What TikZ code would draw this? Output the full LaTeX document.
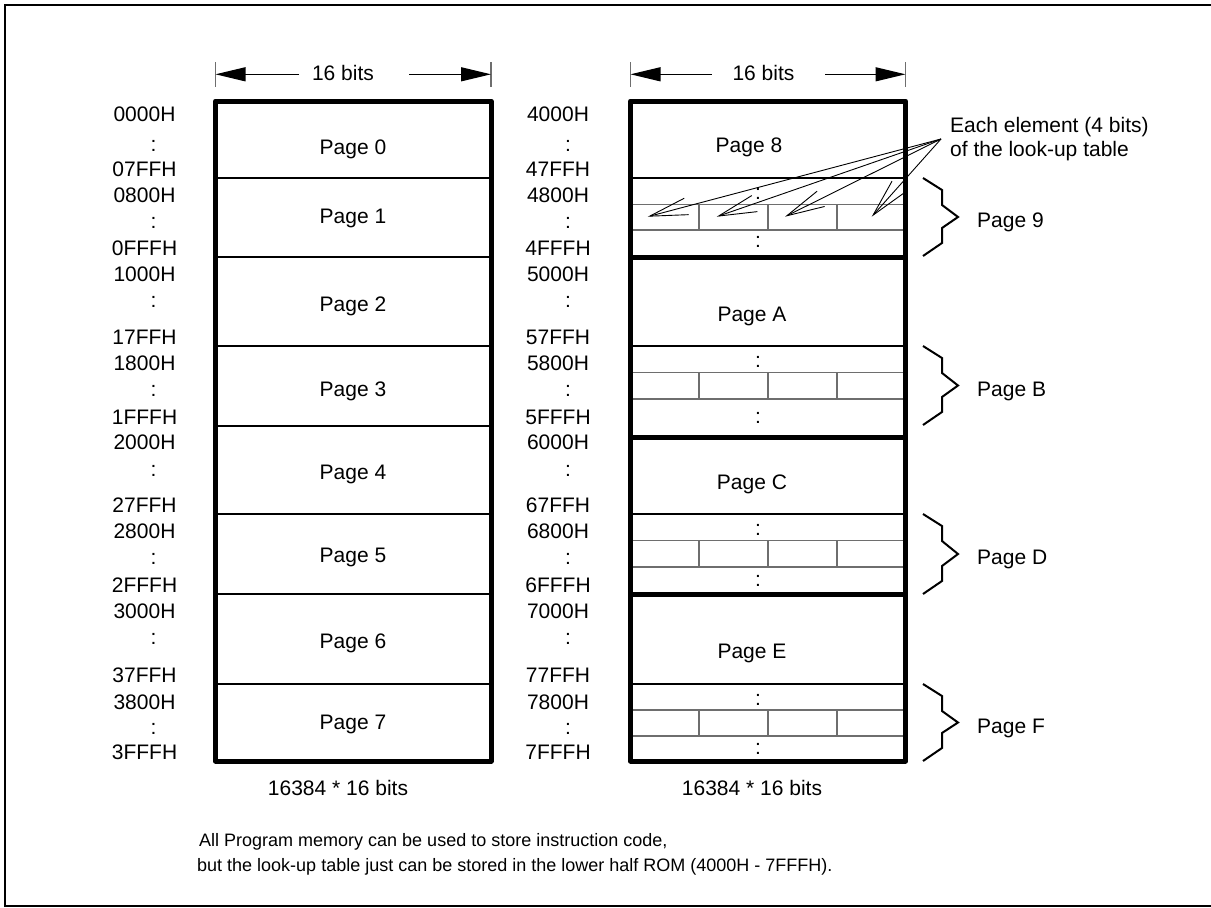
\documentclass[tikz,border=0pt]{standalone}
\usepackage{fontspec}
\setmainfont{Liberation Sans}
\usetikzlibrary{arrows.meta}
\definecolor{gridgray}{RGB}{110,110,110}
\tikzset{
  lbl/.style={font=\fontsize{21}{24}\selectfont, inner sep=0pt},
  note/.style={font=\fontsize{18}{21}\selectfont, inner sep=0pt},
  boxline/.style={line width=5pt, line join=round},
  divthin/.style={line width=2.5pt},
  cellline/.style={line width=1.3pt, draw=gridgray},
  tickline/.style={line width=1.3pt, draw=gridgray},
  dimarrow/.style={line width=1.2pt, -{Triangle[length=30pt,width=14pt]}},
  leader/.style={line width=0.9pt, -{Straight Barb[length=38pt,width=17pt,line width=0.9pt]}},
  bracepath/.style={line width=2pt, line join=miter},
}
\begin{document}
\begin{tikzpicture}[x=1pt,y=-1pt]
\useasboundingbox (0,0) rectangle (1211,908);
% outer frame (right side cut off)
\draw[line width=2pt] (1220,5) -- (5,5) -- (5,906) -- (1220,906);

% ---------- left memory block ----------
\foreach \y in {178,257,346,426,514,594,684}{
  \draw[divthin] (215.5,\y) -- (491,\y);
}
\draw[boxline] (215.5,101) rectangle (491,761);

% ---------- right memory block: look-up table rows ----------
\foreach \t/\ga/\gb/\ca/\cb in {178/204.3/230/194/242,
                                 346/372.7/399/362/418,
                                 514/540.7/567/530/581,
                                 684/710/736/700/749}{
  \draw[cellline] (630.5,\ga) -- (905.5,\ga);
  \draw[cellline] (630.5,\gb) -- (905.5,\gb);
  \foreach \x in {699,768,837}{
    \draw[cellline] (\x,\ga) -- (\x,\gb);
  }
  \node[lbl] (dc\t a) at (758,\ca) {:};
  \node[lbl] (dc\t b) at (758,\cb) {:};
}
\foreach \y in {178,346,514,684}{
  \draw[divthin] (630.5,\y) -- (905.5,\y);
}
\foreach \y in {257,437,594}{
  \draw[boxline] (630.5,\y) -- (905.5,\y);
}
\draw[boxline] (630.5,101) rectangle (905.5,761);

% ---------- page labels ----------
\node[lbl, anchor=base] (p0) at (353,154.5) {Page 0};
\node[lbl, anchor=base] (p1) at (353,223.5) {Page 1};
\node[lbl, anchor=base] (p2) at (353,311.5) {Page 2};
\node[lbl, anchor=base] (p3) at (353,396.5) {Page 3};
\node[lbl, anchor=base] (p4) at (353,479.5) {Page 4};
\node[lbl, anchor=base] (p5) at (353,562.5) {Page 5};
\node[lbl, anchor=base] (p6) at (353,648.5) {Page 6};
\node[lbl, anchor=base] (p7) at (353,729.3) {Page 7};
\node[lbl, anchor=base] (p8) at (749,152) {Page 8};
\node[lbl, anchor=base] (pA) at (752,321.5) {Page A};
\node[lbl, anchor=base] (pC) at (752,489.5) {Page C};
\node[lbl, anchor=base] (pE) at (752,658.5) {Page E};

% ---------- address labels ----------
\foreach \ys/\yc/\ye/\sa/\ea/\sb/\eb [count=\i] in {
  114/145.5/169.5/0000H/07FFH/4000H/47FFH,
  195/222.5/248.5/0800H/0FFFH/4800H/4FFFH,
  274/301.5/337.5/1000H/17FFH/5000H/57FFH,
  363/390.5/417.5/1800H/1FFFH/5800H/5FFFH,
  442/470.5/505.5/2000H/27FFH/6000H/67FFH,
  531/558.5/585.5/2800H/2FFFH/6800H/6FFFH,
  611/638.5/675.5/3000H/37FFH/7000H/77FFH,
  702/728.5/752.5/3800H/3FFFH/7800H/7FFFH}{
  \node[lbl] (ls\i) at (144.5,\ys) {\sa};
  \node[lbl] (lc\i) at (153.5,\yc) {:};
  \node[lbl] (le\i) at (144.5,\ye) {\ea};
  \node[lbl] (rs\i) at (558,\ys) {\sb};
  \node[lbl] (rc\i) at (568,\yc) {:};
  \node[lbl] (re\i) at (558,\ye) {\eb};
}

% ---------- 16 bits dimensions ----------
\draw[tickline] (215.5,62) -- (215.5,87);
\draw[tickline] (491,62) -- (491,87);
\draw[tickline] (630.5,62) -- (630.5,87);
\draw[tickline] (905.5,62) -- (905.5,87);
\node[lbl, anchor=base] (wl) at (343,80.7) {16 bits};
\node[lbl, anchor=base] (wr) at (763.5,80.7) {16 bits};
\coordinate (wla) at (215.5,74.3);
\coordinate (wlb) at (491,74.3);
\coordinate (wra) at (630.5,74.3);
\coordinate (wrb) at (905.5,74.3);
\draw[dimarrow] (299,74.3) -- (wla);
\draw[dimarrow] (409,74.3) -- (wlb);
\draw[dimarrow] (711.7,74.3) -- (wra);
\draw[dimarrow] (825,74.3) -- (wrb);

% ---------- braces ----------
\foreach \t/\b/\n in {178/256/9,346/425/B,514/594/D,684/761/F}{
  \pgfmathsetmacro{\m}{(\t+\b)/2}
  \draw[bracepath] (923,\t) -- (942,\t+12) -- (942,\t+27) -- (958,\m)
     -- (942,\b-28) -- (942,\b-13) -- (923,\b);
  \node[lbl, anchor=base west] (br\n) at (977,\m+10.5) {Page \n};
}

% ---------- annotation ----------
\node[lbl, anchor=base west] (ann1) at (950,132.3) {Each element (4 bits)};
\node[lbl, anchor=base west] (ann2) at (950,156.7) {of the look-up table};
\coordinate (apex) at (941,139);
\coordinate (t1) at (647.7,216.7);
\coordinate (t2) at (716.7,216.7);
\coordinate (t3) at (785,216.7);
\coordinate (t4) at (871.7,216.7);
\foreach \k in {1,2,3,4}{
  \draw[leader] (apex) -- (t\k);
}

% ---------- bottom captions ----------
\node[lbl] (capl) at (338,788) {16384 * 16 bits};
\node[lbl] (capr) at (752,788) {16384 * 16 bits};
\node[note, anchor=west] (note1) at (199,842) {All Program memory can be used to store instruction code,};
\node[note, anchor=west] (note2) at (197,867) {but the look-up table just can be stored in the lower half ROM (4000H - 7FFFH).};
\end{tikzpicture}
\end{document}
